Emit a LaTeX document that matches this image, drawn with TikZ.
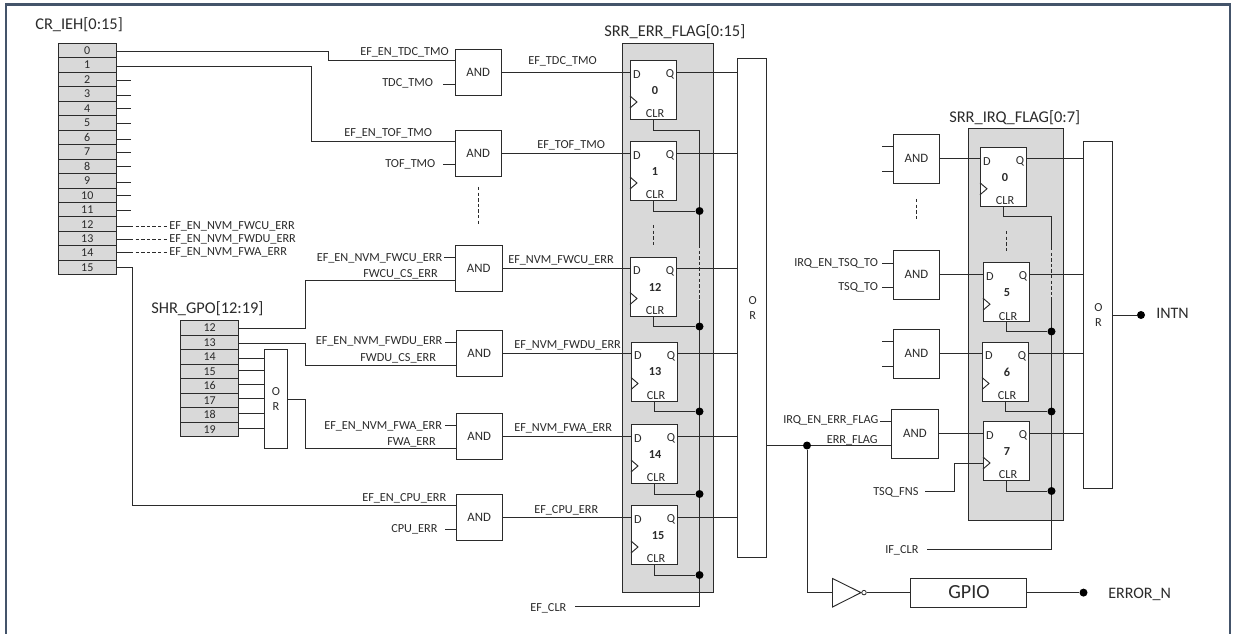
\documentclass[tikz,border=0pt]{standalone}
\usepackage{fontspec}
\setmainfont{Carlito}
\definecolor{frm}{HTML}{44546A}
\definecolor{ink}{HTML}{2B2B2B}
\definecolor{grayf}{HTML}{D9D9D9}
\tikzset{
  boxst/.style={draw=ink,line width=0.7pt,fill=white,inner sep=0pt,outer sep=0pt,anchor=north west,text=ink,font=\fontsize{9.6}{10}\selectfont},
  regcell/.style={boxst,fill=grayf,font=\fontsize{9}{9}\selectfont},
  wire/.style={draw=ink,line width=0.7pt},
  dashw/.style={wire,line width=0.6pt,dash pattern=on 2.6pt off 1.6pt},
  lab/.style={text=ink,inner sep=0pt,anchor=west,font=\fontsize{9.2}{10}\selectfont},
  title/.style={text=ink,inner sep=0pt,anchor=west,font=\fontsize{12.3}{13}\selectfont},
  dot/.style={circle,fill=black,draw=none,minimum size=8*0.75pt,inner sep=0pt},
}
% name x1 y1 x2 y2 text
\newcommand{\bx}[6]{\node[boxst,minimum width={(#4-#2)*0.75pt},minimum height={(#5-#3)*0.75pt}] (#1) at (#2,#3) {#6};}
\newcommand{\bxs}[7]{\node[#7,minimum width={(#4-#2)*0.75pt},minimum height={(#5-#3)*0.75pt}] (#1) at (#2,#3) {#6};}
% flip-flop: name x y number numberdx
\newcommand{\ffb}[5]{%
  \node[boxst,minimum width=46.5*0.75pt,minimum height=59*0.75pt] (#1) at (#2,#3) {};
  \node[lab,anchor=center] (#1D) at ($(#1.north west)+(7,14)$) {D};
  \node[lab,anchor=center] (#1Q) at ($(#1.north west)+(40,14)$) {Q};
  \node[lab,anchor=center,font=\fontsize{9.2}{10}\bfseries\selectfont] (#1N) at ($(#1.north west)+(#5,30)$) {#4};
  \node[lab,anchor=center] (#1C) at ($(#1.north west)+(25,53.5)$) {CLR};
  \coordinate (#1ck) at ($(#1.north west)+(0,41.5)$);
  \draw[wire] ($(#1ck)+(0,-6)$) -- ($(#1ck)+(7,0)$) -- ($(#1ck)+(0,6)$);
  \coordinate (#1di) at ($(#1.north west)+(0,11.5)$);
  \coordinate (#1qo) at ($(#1.north east)+(0,11.5)$);
}
\begin{document}
\begin{tikzpicture}[x=0.75pt,y=-0.75pt]
\useasboundingbox (0,0) rectangle (1235,634);
\usetikzlibrary{calc}
\fill[white] (0,0) rectangle (1235,634);
\draw[frm,line width=2pt] (6,634) -- (6,4.5) -- (1230,4.5) -- (1230,634);

% gray panels
\bxs{g1}{622}{43.5}{713.5}{592.5}{}{boxst,fill=grayf}
\bxs{g2}{968.5}{128}{1063.5}{520.5}{}{boxst,fill=grayf}

% CR_IEH
\node[title] (t1) at (35,25) {CR\_IEH[0:15]};
\foreach \i in {0,...,15}{
  \pgfmathsetmacro{\yy}{43.4+14.46*\i}
  \pgfmathsetmacro{\yb}{\yy+14.46}
  \bxs{c\i}{58.5}{\yy}{116}{\yb}{\i}{regcell}
}
% SHR_GPO
\node[title] (t2) at (151,309) {SHR\_GPO[12:19]};
\foreach \i [evaluate=\i as \k using int(\i-12)] in {12,...,19}{
  \pgfmathsetmacro{\yy}{320.7+14.48*\k}
  \pgfmathsetmacro{\yb}{\yy+14.48}
  \bxs{s\i}{180.7}{\yy}{238.7}{\yb}{\i}{regcell}
}
\bx{or0}{264.3}{349.5}{287.7}{448}{}
\node[lab,anchor=center] (or0o) at (276,392) {O};
\node[lab,anchor=center] (or0r) at (276,407) {R};

% stubs CR 2..11
\foreach \i/\yy in {2/80,3/95.3,4/108.7,5/123.7,6/139.3,7/152.7,8/166,9/182,10/195,11/210.3}{
  \coordinate (st\i) at (131,\yy);
  \draw[wire] (c\i.east |- st\i) -- (st\i);
}
% CR 12..14 labels
\foreach \i/\yy/\tx in {12/226/EF\_EN\_NVM\_FWCU\_ERR,13/239/EF\_EN\_NVM\_FWDU\_ERR,14/252.5/EF\_EN\_NVM\_FWA\_ERR}{
  \node[lab] (cl\i) at (169,\yy) {\tx};
  \coordinate (m\i) at (130,\yy);
  \draw[wire] (c\i.east |- m\i) -- (m\i);
  \draw[dashw] (m\i) -- (cl\i.west);
}
% SHR to OR
\foreach \i/\yy in {14/358,15/370.5,16/384.5,17/398.5,18/413,19/428}{
  \coordinate (sr\i) at (238.7,\yy);
  \draw[wire] (sr\i) -- (or0.west |- sr\i);
}

% AND gates column 1
\bx{a0}{455}{49.5}{501.5}{95}{AND}
\bx{a1}{455}{130}{501.5}{176}{AND}
\bx{a12}{455.5}{245.5}{502}{291.5}{AND}
\bx{a13}{456}{330.6}{502.5}{376.7}{AND}
\bx{a14}{456}{413.3}{502.5}{459.3}{AND}
\bx{a15}{456}{494}{502.5}{540}{AND}

% flip-flops column 1
\ffb{f0}{630}{60.5}{0}{25}
\ffb{f1}{630}{141.5}{1}{25}
\ffb{f12}{630}{257}{12}{25}
\ffb{f13}{631}{342}{13}{24}
\ffb{f14}{631}{424.5}{14}{24}
\ffb{f15}{631}{505.5}{15}{27}
\node[title] (t3) at (604,32) {SRR\_ERR\_FLAG[0:15]};

% big OR
\bx{or1}{737.5}{58}{766}{557.5}{}
\node[lab,anchor=center] (or1o) at (752.7,301) {O};
\node[lab,anchor=center] (or1r) at (752.7,316) {R};

% AND -> FF -> OR
\foreach \i in {0,1,12,13,14,15}{
  \draw[wire] (a\i.east |- f\i di) -- (f\i di);
  \draw[wire] (f\i qo) -- (or1.west |- f\i qo);
}
% inputs
\coordinate (j0a) at (328,51); \coordinate (j0b) at (328,60.5);
\draw[wire] (c0.east |- j0a) -- (j0a) -- (j0b) -- (a0.west |- j0b);
\coordinate (j1a) at (311,66); \coordinate (j1b) at (311,141.5);
\draw[wire] (c1.east |- j1a) -- (j1a) -- (j1b) -- (a1.west |- j1b);
\coordinate (j15a) at (132,267); \coordinate (j15b) at (132,505.6);
\draw[wire] (c15.east |- j15a) -- (j15a) -- (j15b) -- (a15.west |- j15b);
\coordinate (j12a) at (305,328); \coordinate (j12b) at (305,280.5);
\draw[wire] (s12.east |- j12a) -- (j12a) -- (j12b) -- (a12.west |- j12b);
\coordinate (j13a) at (305,343.5); \coordinate (j13b) at (305,365);
\draw[wire] (s13.east |- j13a) -- (j13a) -- (j13b) -- (a13.west |- j13b);
\coordinate (j14a) at (305,399); \coordinate (j14b) at (305,448);
\draw[wire] (or0.east |- j14a) -- (j14a) -- (j14b) -- (a14.west |- j14b);

% labels and stubs column 1
\node[lab] (l1) at (360,52) {EF\_EN\_TDC\_TMO};
\node[lab] (l2) at (382,83) {TDC\_TMO};
\node[lab] (l3) at (344,133) {EF\_EN\_TOF\_TMO};
\node[lab] (l4) at (385,164) {TOF\_TMO};
\node[lab] (l5) at (316.5,258) {EF\_EN\_NVM\_FWCU\_ERR};
\node[lab] (l6) at (363,274) {FWCU\_CS\_ERR};
\node[lab] (l7) at (315.5,341) {EF\_EN\_NVM\_FWDU\_ERR};
\node[lab] (l8) at (360,358) {FWDU\_CS\_ERR};
\node[lab] (l9) at (324,426) {EF\_EN\_NVM\_FWA\_ERR};
\node[lab] (l10) at (387,442) {FWA\_ERR};
\node[lab] (l11) at (362,498) {EF\_EN\_CPU\_ERR};
\node[lab] (l12) at (391,529) {CPU\_ERR};
\foreach \n/\xx/\yy/\g in {s1/443/84/a0,s2/443/164.5/a1,s3/444/257/a12,s4/445/342/a13,s5/445/425/a14,s6/445/529/a15}{
  \coordinate (\n) at (\xx,\yy);
  \draw[wire] (\n) -- (\g.west |- \n);
}
\node[lab] (o1) at (528,61) {EF\_TDC\_TMO};
\node[lab] (o2) at (537,145) {EF\_TOF\_TMO};
\node[lab] (o3) at (508,260) {EF\_NVM\_FWCU\_ERR};
\node[lab] (o4) at (514,345) {EF\_NVM\_FWDU\_ERR};
\node[lab] (o5) at (514,428) {EF\_NVM\_FWA\_ERR};
\node[lab] (o6) at (534,510) {EF\_CPU\_ERR};

% clear bus 1
\coordinate (b1top) at (699.5,130);
\coordinate (b1d1) at (699.5,245);
\coordinate (b1d2) at (699.5,300);
\coordinate (b1end) at (699.5,606.5);
\coordinate (efc) at (575,606.5);
\node[lab] (efl) at (530,608) {EF\_CLR};
\draw[wire] (f0.south -| 653.3,0) -- (653.3,130) -- (b1top) -- (b1d1);
\draw[dashw] (b1d1) -- (b1d2);
\draw[wire] (b1d2) -- (b1end) -- (efc);
\foreach \i/\xx/\yy in {1/653.3/211,12/653.3/326.5,13/654/411.5,14/654/494,15/654/575}{
  \node[dot] (d\i) at (699.5,\yy) {};
  \coordinate (k\i) at (\xx,\yy);
  \draw[wire] (f\i.south -| k\i) -- (k\i) -- (d\i);
}
\coordinate (v1a) at (478,187); \coordinate (v1b) at (478,226);
\draw[dashw] (v1a) -- (v1b);
\coordinate (v2a) at (653.5,225); \coordinate (v2b) at (653.5,246);
\draw[dashw] (v2a) -- (v2b);

% column 2 AND
\bx{b0}{893.5}{134.5}{939.5}{183}{AND}
\bx{b5}{893.5}{250}{939.5}{299.5}{AND}
\bx{b6}{893.5}{329}{939.5}{378.5}{AND}
\bx{b7}{891.7}{409}{938}{458.5}{AND}
\ffb{h0}{980}{147.3}{0}{25}
\ffb{h5}{983}{262.7}{5}{24}
\ffb{h6}{982}{342}{6}{25}
\ffb{h7}{983}{421.5}{7}{24}
\node[title] (t4) at (949,118) {SRR\_IRQ\_FLAG[0:7]};
\bx{or2}{1083}{141.5}{1112}{488.5}{}
\node[lab,anchor=center] (or2o) at (1098.5,308) {O};
\node[lab,anchor=center] (or2r) at (1098.5,323) {R};
\foreach \i in {0,5,6,7}{
  \draw[wire] (b\i.east |- h\i di) -- (h\i di);
  \draw[wire] (h\i qo) -- (or2.west |- h\i qo);
}
\foreach \n/\yy/\g in {t01/146.5/b0,t02/171/b0,t51/263/b5,t52/287.5/b5,t61/341.5/b6,t62/366/b6}{
  \coordinate (\n) at (882,\yy);
  \draw[wire] (\n) -- (\g.west |- \n);
}
\coordinate (t71) at (880,421);
\draw[wire] (t71) -- (b7.west |- t71);
\node[lab] (r1) at (794,263) {IRQ\_EN\_TSQ\_TO};
\node[lab] (r2) at (838,287) {TSQ\_TO};
\node[lab] (r3) at (783,420.5) {IRQ\_EN\_ERR\_FLAG};
\node[lab] (r4) at (826.5,440) {ERR\_FLAG};
\node[lab] (r5) at (873,492) {TSQ\_FNS};
\node[lab] (r6) at (885,550) {IF\_CLR};
% TSQ_FNS
\coordinate (tq1) at (925,491); \coordinate (tq2) at (954,491); \coordinate (tq3) at (954,463.5);
\draw[wire] (tq1) -- (tq2) -- (tq3) -- (h7ck |- tq3);
% clear bus 2
\coordinate (b2top) at (1051.3,216.5);
\coordinate (b2d1) at (1051.3,247);
\coordinate (b2d2) at (1051.3,300);
\coordinate (b2end) at (1051.3,549);
\coordinate (ifc) at (927,549);
\draw[wire] (h0.south -| 1003,0) -- (1003,216.5) -- (b2top) -- (b2d1);
\draw[dashw] (b2d1) -- (b2d2);
\draw[wire] (b2d2) -- (b2end) -- (ifc);
\foreach \i/\xx/\yy in {5/1006.5/331.5,6/1005/411.5,7/1006.5/491}{
  \node[dot] (e\i) at (1051.5,\yy) {};
  \coordinate (q\i) at (\xx,\yy);
  \draw[wire] (h\i.south -| q\i) -- (q\i) -- (e\i);
}
\coordinate (v3a) at (916.5,199); \coordinate (v3b) at (916.5,220);
\draw[dashw] (v3a) -- (v3b);
\coordinate (v4a) at (1006,231); \coordinate (v4b) at (1006,252);
\draw[dashw] (v4a) -- (v4b);
% OR output, GPIO
\node[dot] (jn) at (807,445.5) {};
\draw[wire] (or1.east |- jn) -- (jn) -- (b7.west |- jn);
\coordinate (inv1) at (832.5,578.5); \coordinate (inv2) at (861,592.6); \coordinate (inv3) at (832.5,607);
\draw[wire,fill=white] (inv1) -- (inv2) -- (inv3) -- cycle;
\node[circle,draw=ink,line width=0.6pt,fill=white,minimum size=4.5*0.75pt,inner sep=0pt] (bub) at (864,592.6) {};
\coordinate (cn) at (807,592.6);
\draw[wire] (jn) -- (cn) -- (832.5,592.6);
\node[boxst,minimum width=115.5*0.75pt,minimum height=29*0.75pt,font=\fontsize{15}{16}\selectfont] (gpio) at (910.5,578) {\kern1pt GPIO};
\draw[wire] (bub) -- (gpio.west |- bub);
\node[dot] (de) at (1083.5,592.6) {};
\draw[wire] (gpio.east |- de) -- (de);
\node[lab,font=\fontsize{12}{13}\selectfont] (errn) at (1108,594) {ERROR\_N};
\node[dot] (di) at (1141,315) {};
\draw[wire] (or2.east |- di) -- (di);
\node[lab,font=\fontsize{12}{13}\selectfont] (intn) at (1156,313) {INTN};
\end{tikzpicture}
\end{document}
